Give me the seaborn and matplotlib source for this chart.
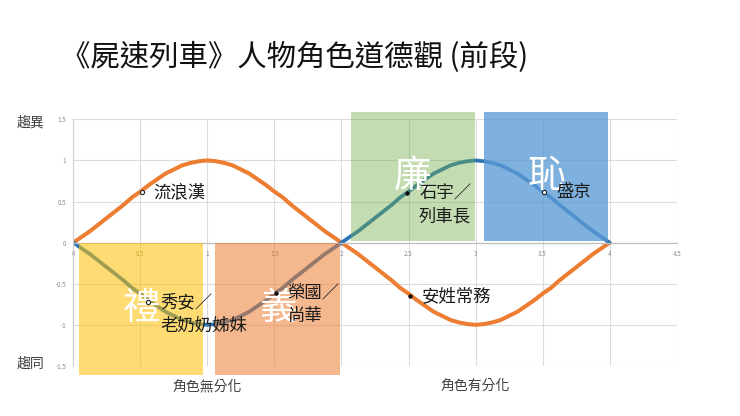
import matplotlib
matplotlib.use("Agg")
import matplotlib.pyplot as plt
from matplotlib.patches import Rectangle
import seaborn as sns
import pandas as pd

# ---------------- data ----------------
curve_x = [0, 0.0625, 0.125, 0.1875, 0.25, 0.3125, 0.375, 0.4375,
           0.5, 0.5625, 0.625, 0.6875, 0.75, 0.8125, 0.875, 0.9375,
           1.0, 1.0625, 1.125, 1.1875, 1.25, 1.3125, 1.375, 1.4375,
           1.5, 1.5625, 1.625, 1.6875, 1.75, 1.8125, 1.875, 1.9375,
           2.0, 2.0625, 2.125, 2.1875, 2.25, 2.3125, 2.375, 2.4375,
           2.5, 2.5625, 2.625, 2.6875, 2.75, 2.8125, 2.875, 2.9375,
           3.0, 3.0625, 3.125, 3.1875, 3.25, 3.3125, 3.375, 3.4375,
           3.5, 3.5625, 3.625, 3.6875, 3.75, 3.8125, 3.875, 3.9375,
           4.0]
# orange series
orange_y = [0, 0.07, 0.14, 0.22, 0.30, 0.38, 0.46, 0.55,
            0.62, 0.70, 0.77, 0.84, 0.89, 0.94, 0.97, 0.99,
            1.0, 0.99, 0.97, 0.94, 0.89, 0.84, 0.77, 0.70,
            0.62, 0.55, 0.46, 0.38, 0.30, 0.22, 0.14, 0.07,
            0, -0.07, -0.14, -0.22, -0.30, -0.38, -0.46, -0.55,
            -0.62, -0.70, -0.77, -0.84, -0.89, -0.94, -0.97, -0.99,
            -1.0, -0.99, -0.97, -0.94, -0.89, -0.84, -0.77, -0.70,
            -0.62, -0.55, -0.46, -0.38, -0.30, -0.22, -0.14, -0.07,
            0]
# blue series
blue_y = [0, -0.07, -0.14, -0.22, -0.30, -0.38, -0.46, -0.55,
          -0.62, -0.70, -0.77, -0.84, -0.89, -0.94, -0.97, -0.99,
          -1.0, -0.99, -0.97, -0.94, -0.89, -0.84, -0.77, -0.70,
          -0.62, -0.55, -0.46, -0.38, -0.30, -0.22, -0.14, -0.07,
          0, 0.07, 0.14, 0.22, 0.30, 0.38, 0.46, 0.55,
          0.62, 0.70, 0.77, 0.84, 0.89, 0.94, 0.97, 0.99,
          1.0, 0.99, 0.97, 0.94, 0.89, 0.84, 0.77, 0.70,
          0.62, 0.55, 0.46, 0.38, 0.30, 0.22, 0.14, 0.07,
          0]

point_line1 = ['流浪漢', '秀安／', '榮國／', '石宇／', '盛京', '安姓常務']
point_line2 = ['', '老奶奶姊妹', '尚華', '列車長', '', '']
point_x = [0.51, 0.56, 1.51, 2.49, 3.51, 2.51]
point_y = [0.62, -0.72, -0.61, 0.60, 0.62, -0.65]
point_hollow = [True, True, False, False, True, False]

region_names = ['禮', '義', '廉', '恥']
region_x0 = [0.04, 1.06, 2.07, 3.06]
region_x1 = [0.97, 1.99, 2.995, 3.99]
region_y0 = [-1.61, -1.61, 0.02, 0.02]
region_y1 = [0.0, 0.0, 1.59, 1.59]

group_labels = ['角色無分化', '角色有分化']
group_centers = [1.0, 3.0]

x_ticks = [0, 0.5, 1, 1.5, 2, 2.5, 3, 3.5, 4, 4.5]
x_ticklabels = ['0', '0.5', '1', '1.5', '2', '2.5', '3', '3.5', '4', '4.5']
y_ticks = [-1.5, -1, -0.5, 0, 0.5, 1, 1.5]
y_ticklabels = ['-1.5', '-1', '-0.5', '0', '0.5', '1', '1.5']

title = '《屍速列車》人物角色道德觀 (前段)'
y_top_label = '趨異'
y_bottom_label = '趨同'

# ---------------- style ----------------
sns.set_theme(style='white')
plt.rcParams['font.family'] = ['Noto Sans CJK TC', 'DejaVu Sans']

ORANGE = '#ED7D31'
BLUE = '#2E75B6'
region_colors = ['#FFC000', '#ED7D31', '#70AD47', '#5B9BD5']
region_alpha = [0.55, 0.55, 0.42, 0.78]

fig = plt.figure(figsize=(7.4, 4.16), dpi=100)
W, H = 740, 416
ax = fig.add_axes([73.3 / W, 1 - 366 / H, (676.7 - 73.3) / W, (366 - 119.3) / H])

df = pd.DataFrame({'x': curve_x, 'orange': orange_y, 'blue': blue_y})
sns.lineplot(data=df, x='x', y='orange', color=ORANGE, lw=2.9, ax=ax,
             sort=False, zorder=2, solid_joinstyle='round')
sns.lineplot(data=df, x='x', y='blue', color=BLUE, lw=2.7, ax=ax,
             sort=False, zorder=2, solid_joinstyle='round')

ax.set_xlim(0, 4.5)
ax.set_ylim(-1.5, 1.5)
ax.set_xlabel('')
ax.set_ylabel('')
ax.set_xticks(x_ticks)
ax.set_xticklabels(x_ticklabels)
ax.set_yticks(y_ticks)
ax.set_yticklabels(y_ticklabels)
ax.tick_params(axis='both', length=0, labelsize=4.5, labelcolor='#8c8c8c')
ax.tick_params(axis='x', pad=5)
ax.tick_params(axis='y', pad=5)
ax.grid(True, color='#dcdcdc', lw=0.8, zorder=0)
ax.set_axisbelow(True)
for s in ['top', 'right']:
    ax.spines[s].set_visible(False)
ax.spines['bottom'].set_position(('data', 0))
ax.spines['bottom'].set_color('#bfbfbf')
ax.spines['bottom'].set_linewidth(0.9)
ax.spines['left'].set_color('#cfcfcf')
ax.spines['left'].set_linewidth(0.8)

# regions (semi-transparent overlays)
for i, name in enumerate(region_names):
    ax.add_patch(Rectangle((region_x0[i], region_y0[i]),
                           region_x1[i] - region_x0[i],
                           region_y1[i] - region_y0[i],
                           facecolor=region_colors[i], alpha=region_alpha[i],
                           lw=0, zorder=3, clip_on=False))
    ax.text((region_x0[i] + region_x1[i]) / 2,
            (region_y0[i] + region_y1[i]) / 2, name,
            ha='center', va='center', fontsize=27, color='white',
            fontweight='light', zorder=4)

# character points
pts = pd.DataFrame({'x': point_x, 'y': point_y, 'hollow': point_hollow})
sns.scatterplot(data=pts[pts.hollow], x='x', y='y', s=9, color='white',
                edgecolor='#222222', linewidth=0.8, ax=ax, zorder=6)
sns.scatterplot(data=pts[~pts.hollow], x='x', y='y', s=7, color='#111111',
                edgecolor='#111111', linewidth=0.5, ax=ax, zorder=6)
ax.set_xlabel('')
ax.set_ylabel('')

for i in range(len(point_x)):
    ax.annotate(point_line1[i], (point_x[i], point_y[i]), xytext=(8.6, 0),
                textcoords='offset points', ha='left', va='center',
                fontsize=12.5, color='#1a1a1a', zorder=7)
    if point_line2[i]:
        ax.annotate(point_line2[i], (point_x[i], point_y[i]),
                    xytext=(8.6, -17), textcoords='offset points',
                    ha='left', va='center', fontsize=12.5, color='#1a1a1a',
                    zorder=7)

# group labels under the axis
for lab, cx in zip(group_labels, group_centers):
    ax.text(cx, -0.081, lab, transform=ax.get_xaxis_transform(),
            ha='center', va='center', fontsize=10, color='#404040')

fig.text(17 / W, 1 - 122.7 / H, y_top_label, ha='left', va='center',
         fontsize=10, color='#404040')
fig.text(17 / W, 1 - 364 / H, y_bottom_label, ha='left', va='center',
         fontsize=10, color='#404040')

fig.text(295 / W, 1 - 57 / H, title, ha='center', va='center',
         fontsize=21.2, color='#111111', fontweight='light')

fig.savefig('out.png', dpi=100)
